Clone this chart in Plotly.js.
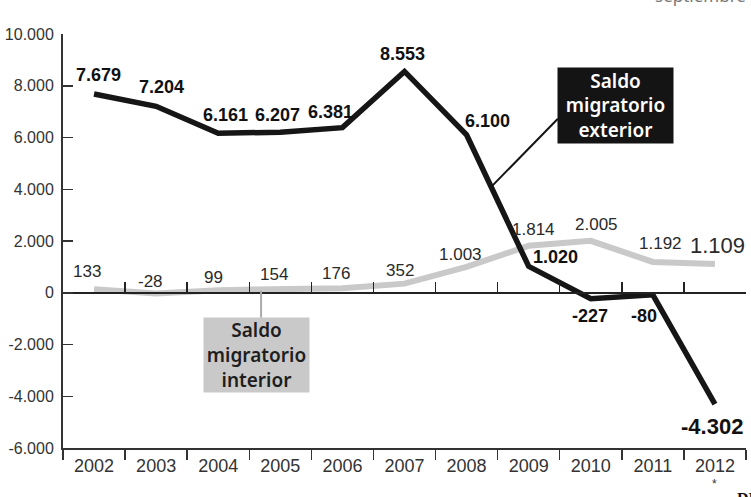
<!DOCTYPE html>
<html>
<head>
<meta charset="utf-8">
<script src="https://cdn.plot.ly/plotly-3.0.1.min.js"></script>
<style>html,body{margin:0;padding:0;background:#fff;}#chart{width:751px;height:497px;}</style>
</head>
<body>
<div id="chart"></div>
<script>
// ---- data ----
const years = ['2002','2003','2004','2005','2006','2007','2008','2009','2010','2011','2012'];
const exterior = [7679, 7204, 6161, 6207, 6381, 8553, 6100, 1020, -227, -80, -4302];
const interior = [133, -28, 99, 154, 176, 352, 1003, 1814, 2005, 1192, 1109];
const yTickVals = [-6000, -4000, -2000, 0, 2000, 4000, 6000, 8000, 10000];

// ---- label placement (pixel offsets, styling only) ----
const extDx = [4, 5, 7, -3, -12, -2, 21, 27, -1, -9, -3];
const extDy = [19, 19, 18, 17, 16, 17, 14, 9, -17, -21, -22];
const intDx = [-7, -6, -5, -6, -6, -5, -6, 5, 6, 8, 3];
const intDy = [18, 12, 13, 14, 15, 13, 12, 16, 16, 18, 19];

function fmt(v) {
  const s = Math.abs(v).toString().replace(/\B(?=(\d{3})+(?!\d))/g, '.');
  return (v < 0 ? '-' : '') + s;
}

const NARROW = '"Liberation Sans", Arial, sans-serif';
const BOX = '"Noto Sans", "Open Sans", sans-serif';

const traces = [
  {
    x: years, y: interior, xaxis: 'x', yaxis: 'y',
    type: 'scatter', mode: 'lines',
    line: {color: '#c9c9c9', width: 6},
    hoverinfo: 'skip'
  },
  {
    x: years, y: exterior, xaxis: 'x2', yaxis: 'y',
    type: 'scatter', mode: 'lines',
    line: {color: '#161616', width: 5.5},
    hoverinfo: 'skip'
  }
];

const annotations = [];
years.forEach((yr, i) => {
  const last = i === years.length - 1;
  annotations.push({
    x: i, y: exterior[i], xref: 'x', yref: 'y',
    text: fmt(exterior[i]), showarrow: false,
    xanchor: 'center', yanchor: 'middle',
    xshift: extDx[i], yshift: extDy[i],
    font: {family: NARROW, size: last ? 22 : 18, color: '#111', weight: 700}
  });
  annotations.push({
    x: i, y: interior[i], xref: 'x', yref: 'y',
    text: fmt(interior[i]), showarrow: false,
    xanchor: 'center', yanchor: 'middle',
    xshift: intDx[i], yshift: intDy[i],
    font: {family: NARROW, size: last ? 22 : 17, color: '#2a2a2a'}
  });
});

// callout boxes
annotations.push({
  x: 8.40, y: 7246, xref: 'x', yref: 'y',
  text: 'Saldo<br>migratorio<br>exterior', showarrow: false,
  xanchor: 'center', yanchor: 'middle', align: 'center',
  width: 115, height: 75, bgcolor: '#141414', borderpad: 0,
  font: {family: BOX, size: 19, color: '#ffffff', weight: 600}
});
annotations.push({
  x: 2.617, y: -2396, xref: 'x', yref: 'y',
  text: 'Saldo<br>migratorio<br>interior', showarrow: false,
  xanchor: 'center', yanchor: 'middle', align: 'center',
  width: 105, height: 74, bgcolor: '#c9c9c9', borderpad: 0,
  font: {family: BOX, size: 19, color: '#1e1e1e', weight: 600}
});

// small notes around the frame
annotations.push({
  x: 10, xref: 'x', y: 0, yref: 'paper', yshift: -36,
  text: '*', showarrow: false, xanchor: 'center', yanchor: 'middle',
  font: {family: NARROW, size: 12, color: '#333'}
});
annotations.push({
  x: 0.984, xref: 'paper', y: -0.097, yref: 'paper',
  text: 'DN', showarrow: false, xanchor: 'left', yanchor: 'top',
  font: {family: '"Liberation Serif", serif', size: 16, color: '#111', weight: 700}
});
annotations.push({
  x: 1.003, xref: 'paper', y: 1.06, yref: 'paper',
  text: 'septiembre', showarrow: false, xanchor: 'right', yanchor: 'bottom',
  font: {family: BOX, size: 17, color: '#777'}
});

const shapes = [
  {type: 'line', xref: 'x', yref: 'y', x0: 6.4, y0: 4100, x1: 7.47, y1: 6725,
   line: {color: '#141414', width: 2}},
  {type: 'line', xref: 'x', yref: 'y', x0: 2.69, y0: 80, x1: 2.69, y1: -970,
   line: {color: '#aaaaaa', width: 2}}
];

const layout = {
  width: 751, height: 497,
  margin: {l: 63, r: 5, t: 34, b: 49},
  paper_bgcolor: '#ffffff', plot_bgcolor: '#ffffff',
  showlegend: false,
  xaxis: {
    type: 'category', range: [-0.5, 10.5],
    tickson: 'boundaries', ticks: 'outside', ticklen: 10, tickwidth: 1.5, tickcolor: '#333',
    showline: true, linecolor: '#333', linewidth: 2,
    showgrid: false, zeroline: false,
    tickfont: {family: NARROW, size: 18, color: '#333'},
    fixedrange: true
  },
  xaxis2: {
    type: 'category', range: [-0.5, 10.5],
    overlaying: 'x', anchor: 'free', position: 0.375, side: 'bottom',
    tickson: 'boundaries', ticks: 'inside', ticklen: 10, tickwidth: 1.5, tickcolor: '#222',
    showticklabels: false,
    showline: true, linecolor: '#222', linewidth: 2,
    showgrid: false, zeroline: false, fixedrange: true
  },
  yaxis: {
    range: [-6000, 10000],
    tickmode: 'array', tickvals: yTickVals, ticktext: yTickVals.map(fmt),
    ticks: 'inside', ticklen: 10, tickwidth: 1.5, tickcolor: '#333',
    showline: true, linecolor: '#333', linewidth: 2,
    showgrid: false, zeroline: false,
    ticklabelstandoff: 4,
    tickfont: {family: NARROW, size: 16, color: '#333'},
    fixedrange: true
  },
  annotations: annotations,
  shapes: shapes
};

Plotly.newPlot('chart', traces, layout, {displayModeBar: false, staticPlot: true});
</script>
</body>
</html>
